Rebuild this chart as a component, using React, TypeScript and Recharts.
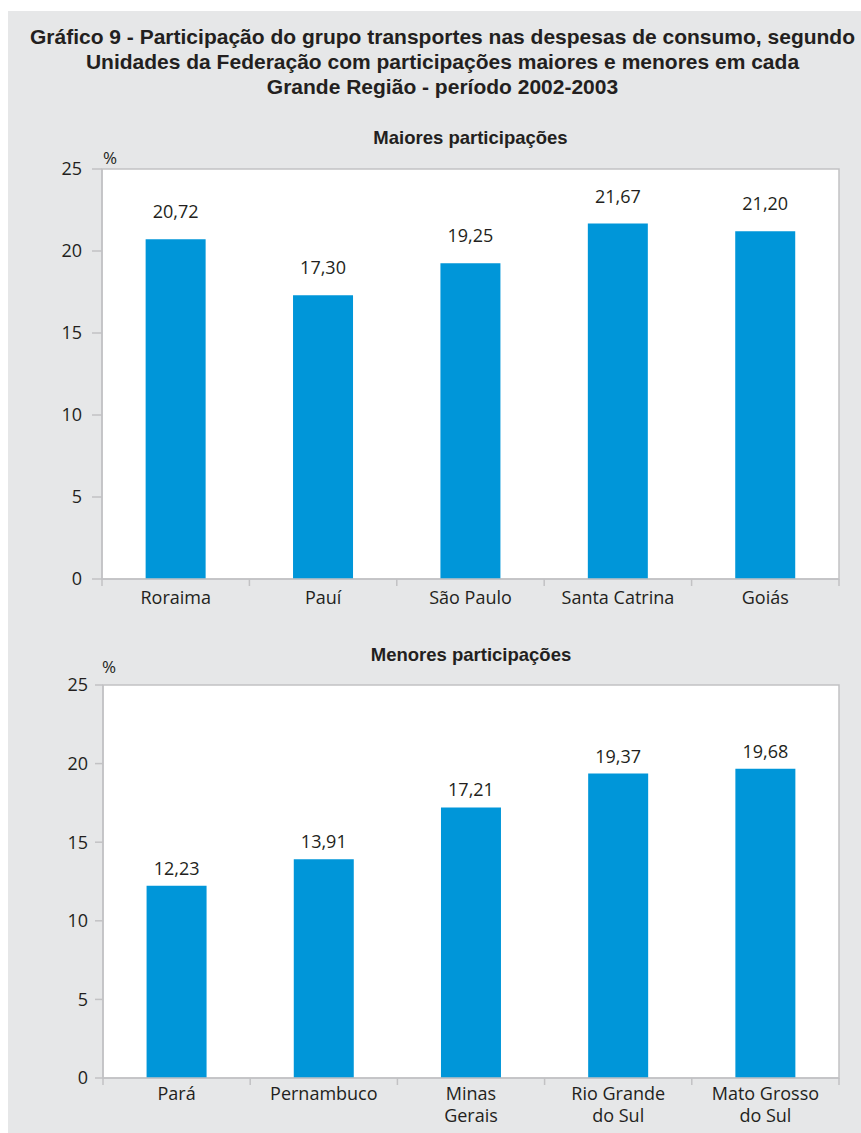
import React from 'react';
import { BarChart, Bar, XAxis, YAxis, LabelList, ReferenceArea } from 'recharts';

const titleLines = [
  'Gráfico 9 - Participação do grupo transportes nas despesas de consumo, segundo',
  'Unidades da Federação com participações maiores e menores em cada',
  'Grande Região - período 2002-2003',
];
const topSubtitle = 'Maiores participações';
const bottomSubtitle = 'Menores participações';
const unitLabel = '%';

const topCategories = ['Roraima', 'Pauí', 'São Paulo', 'Santa Catrina', 'Goiás'];
const topValues = [20.72, 17.3, 19.25, 21.67, 21.2];
const bottomCategories = ['Pará', 'Pernambuco', 'Minas\nGerais', 'Rio Grande\ndo Sul', 'Mato Grosso\ndo Sul'];
const bottomValues = [12.23, 13.91, 17.21, 19.37, 19.68];
const yTicks = [0, 5, 10, 15, 20, 25];

const BG = '#e6e7e8';
const BAR = '#0096d9';
const TEXT = '#231f20';
const AXIS = '#c2c2c4';
const FONT = '"Open Sans", "DejaVu Sans", sans-serif';
const TITLE_FONT = '"Liberation Sans", Arial, sans-serif';

const topData = topCategories.map((c, i) => ({ name: c, value: topValues[i] }));
const bottomData = bottomCategories.map((c, i) => ({ name: c, value: bottomValues[i] }));

const fmt = (v: any) => Number(v).toFixed(2).replace('.', ',');

const makeTick = (firstBaseline: number) => (props: any) => {
  const { x, y, payload, index, visibleTicksCount, width } = props;
  const half = payload && typeof payload.offset === 'number' && payload.offset > 0
    ? payload.offset
    : width / visibleTicksCount / 2;
  const lines = String(payload.value).split('\n');
  return (
    <g>
      <line x1={x - half} x2={x - half} y1={y} y2={y + 7} stroke={AXIS} strokeWidth={1.5} />
      {index === visibleTicksCount - 1 && (
        <line x1={x + half} x2={x + half} y1={y} y2={y + 7} stroke={AXIS} strokeWidth={1.5} />
      )}
      <text x={x} y={y + firstBaseline} textAnchor="middle" fontFamily={FONT} fontSize={18} fill={TEXT}>
        {lines.map((l, i) => (
          <tspan key={i} x={x} dy={i === 0 ? 0 : 22}>{l}</tspan>
        ))}
      </text>
    </g>
  );
};

const TopTick = makeTick(25);
const BottomTick = makeTick(22);

type PanelProps = {
  data: { name: string; value: number }[];
  height: number;
  margin: { top: number; right: number; bottom: number; left: number };
  yWidth: number;
  yTickSize: number;
  yTickMargin: number;
  xHeight: number;
  labelOffset: number;
  Tick: any;
};

const Panel = ({ data, height, margin, yWidth, yTickSize, yTickMargin, xHeight, labelOffset, Tick }: PanelProps) => (
  <BarChart width={861} height={height} data={data} margin={margin} barCategoryGap="29.6%">
    <ReferenceArea y1={0} y2={25} fill="#ffffff" fillOpacity={1} stroke={AXIS} strokeWidth={1.5} ifOverflow="visible" />
    <XAxis
      dataKey="name"
      height={xHeight}
      interval={0}
      tickSize={0}
      tickMargin={0}
      tickLine={false}
      axisLine={{ stroke: AXIS, strokeWidth: 1.5 }}
      tick={<Tick />}
    />
    <YAxis
      width={yWidth}
      domain={[0, 25]}
      ticks={yTicks}
      interval={0}
      tickSize={yTickSize}
      tickMargin={yTickMargin}
      axisLine={{ stroke: AXIS, strokeWidth: 1.5 }}
      tickLine={{ stroke: AXIS, strokeWidth: 1.5 }}
      tick={{ fill: TEXT, fontSize: 18, fontFamily: FONT }}
    />
    <Bar dataKey="value" fill={BAR} isAnimationActive={false}>
      <LabelList
        dataKey="value"
        position="top"
        offset={labelOffset}
        formatter={fmt}
        style={{ fill: TEXT, fontSize: 18, fontFamily: FONT }}
      />
    </Bar>
  </BarChart>
);

export default function App() {
  return (
    <div style={{ position: 'absolute', left: 0, top: 0, width: 861, height: 1133, background: '#ffffff', overflow: 'hidden' }}>
      <div style={{ position: 'absolute', left: 8, top: 11, right: 0, bottom: 0, background: BG }} />
      <div
        style={{
          position: 'absolute',
          left: 12,
          width: 861,
          top: 24,
          textAlign: 'center',
          fontFamily: TITLE_FONT,
          fontWeight: 'bold',
          fontSize: 21,
          lineHeight: '25px',
          color: TEXT,
        }}
      >
        {titleLines.map((l, i) => (
          <div key={i} style={{ whiteSpace: 'nowrap' }}>{l}</div>
        ))}
      </div>

      <div style={{ position: 'absolute', left: 0, top: 0 }}>
        <Panel
          data={topData}
          height={620}
          margin={{ top: 169, right: 22, bottom: 11, left: 0 }}
          yWidth={102}
          yTickSize={10}
          yTickMargin={10}
          xHeight={30}
          labelOffset={21}
          Tick={TopTick}
        />
      </div>
      <div style={{ position: 'absolute', left: 0, top: 600 }}>
        <Panel
          data={bottomData}
          height={533}
          margin={{ top: 85, right: 22, bottom: 15, left: 0 }}
          yWidth={103}
          yTickSize={8}
          yTickMargin={7}
          xHeight={40}
          labelOffset={11}
          Tick={BottomTick}
        />
      </div>

      <div style={{ position: 'absolute', left: 102, width: 737, top: 127, textAlign: 'center', fontFamily: TITLE_FONT, fontWeight: 'bold', fontSize: 18.5, lineHeight: '22px', color: TEXT }}>
        {topSubtitle}
      </div>
      <div style={{ position: 'absolute', left: 103, width: 736, top: 644, textAlign: 'center', fontFamily: TITLE_FONT, fontWeight: 'bold', fontSize: 18.5, lineHeight: '22px', color: TEXT }}>
        {bottomSubtitle}
      </div>
      <div style={{ position: 'absolute', left: 103, top: 147, fontFamily: FONT, fontSize: 17, lineHeight: '22px', color: TEXT }}>
        {unitLabel}
      </div>
      <div style={{ position: 'absolute', left: 102, top: 656, fontFamily: FONT, fontSize: 17, lineHeight: '22px', color: TEXT }}>
        {unitLabel}
      </div>
    </div>
  );
}
